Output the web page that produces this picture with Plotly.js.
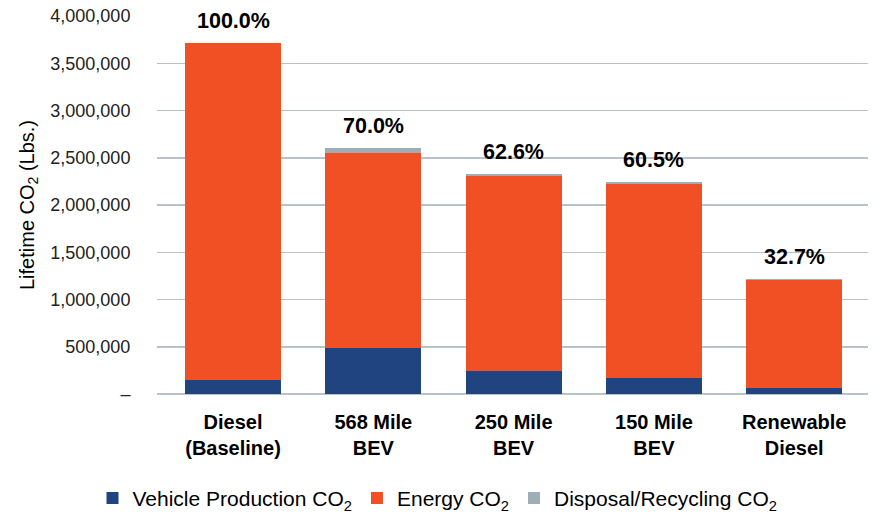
<!DOCTYPE html>
<html>
<head>
<meta charset="utf-8">
<script src="https://cdn.plot.ly/plotly-3.0.1.min.js"></script>
<style>html,body{margin:0;padding:0;background:#fff;}#chart{width:875px;height:517px;}</style>
</head>
<body>
<div id="chart"></div>
<script>
const categories = ["Diesel<br>(Baseline)", "568 Mile<br>BEV", "250 Mile<br>BEV", "150 Mile<br>BEV", "Renewable<br>Diesel"];
const vehicleProduction = [145000, 487000, 240000, 165000, 68000];
const energy = [3566000, 2065000, 2067000, 2060000, 1137000];
const disposal = [5000, 53000, 20000, 23000, 10000];
const percentLabels = ["100.0%", "70.0%", "62.6%", "60.5%", "32.7%"];
const yTickVals = [0, 500000, 1000000, 1500000, 2000000, 2500000, 3000000, 3500000, 4000000];
const yTickText = ["–", "500,000", "1,000,000", "1,500,000", "2,000,000", "2,500,000", "3,000,000", "3,500,000", "4,000,000"];

const idx = categories.map((_, i) => i);
const totals = idx.map(i => vehicleProduction[i] + energy[i] + disposal[i]);
const font = "Liberation Sans, Arial, Helvetica, sans-serif";

const traces = [
  {type: "bar", name: "Vehicle Production CO<sub>2</sub>", x: idx, y: vehicleProduction, marker: {color: "#1F4480"}, hoverinfo: "y"},
  {type: "bar", name: "Energy CO<sub>2</sub>", x: idx, y: energy, marker: {color: "#F05023"}, hoverinfo: "y"},
  {type: "bar", name: "Disposal/Recycling CO<sub>2</sub>", x: idx, y: disposal, marker: {color: "#9EAEB7"}, hoverinfo: "y"}
];

const annotations = idx.map(i => ({
  x: i, y: totals[i], xref: "x", yref: "y", text: percentLabels[i], showarrow: false,
  yanchor: "bottom", yshift: 8, font: {family: font, size: 21.5, color: "#000", weight: "bold"}
}));

const layout = {
  width: 875, height: 517,
  margin: {l: 157, r: 7, t: 16, b: 123, pad: 0},
  paper_bgcolor: "#fff", plot_bgcolor: "#fff",
  barmode: "stack", bargap: 0.316,
  showlegend: true,
  legend: {
    orientation: "h", xref: "container", yref: "container", x: 0.5, xanchor: "center",
    y: 0.036, yanchor: "middle", font: {family: font, size: 21, color: "#000"},
    traceorder: "normal", entrywidthmode: "pixels"
  },
  xaxis: {
    range: [-0.542, 4.526], tickvals: idx, ticktext: categories,
    showgrid: false, zeroline: false, showline: false,
    ticks: "outside", ticklen: 10, tickcolor: "rgba(0,0,0,0)",
    tickfont: {family: font, size: 20, color: "#000", weight: "bold"},
    fixedrange: true
  },
  yaxis: {
    range: [0, 4000000], tickvals: yTickVals, ticktext: yTickText,
    showgrid: true, gridcolor: "#B7C2CB", gridwidth: 1.5,
    zeroline: true, zerolinecolor: "#B7C2CB", zerolinewidth: 2,
    showline: false, ticks: "outside", ticklen: 22, tickcolor: "rgba(0,0,0,0)",
    tickfont: {family: font, size: 18, color: "#222"},
    title: {text: "Lifetime CO<sub>2</sub> (Lbs.)", font: {family: font, size: 20, color: "#000"}, standoff: 10},
    fixedrange: true
  },
  annotations: annotations
};

Plotly.newPlot("chart", traces, layout, {displayModeBar: false, staticPlot: true});
</script>
</body>
</html>
